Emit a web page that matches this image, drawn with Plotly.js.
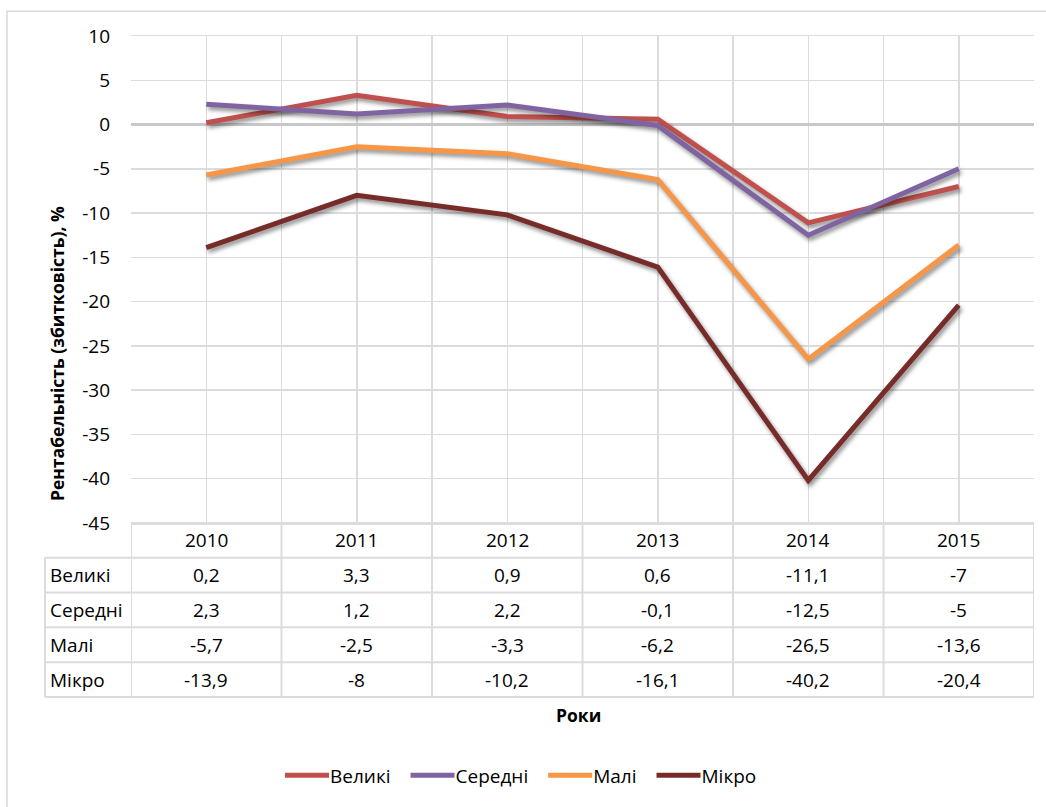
<!DOCTYPE html>
<html><head><meta charset="utf-8">
<script src="https://cdn.plot.ly/plotly-3.0.1.min.js"></script>
<style>
body{margin:0;background:#fff}
.scatterlayer .js-line{filter:drop-shadow(2px 3px 2px rgba(0,0,0,0.45));}
</style></head><body>
<div id="chart" style="width:1046px;height:807px"></div>
<script>
// ---- data ----
const years = [2010, 2011, 2012, 2013, 2014, 2015];
const seriesNames = ['Великі', 'Середні', 'Малі', 'Мікро'];
const velyki  = [0.2, 3.3, 0.9, 0.6, -11.1, -7];
const seredni = [2.3, 1.2, 2.2, -0.1, -12.5, -5];
const mali    = [-5.7, -2.5, -3.3, -6.2, -26.5, -13.6];
const mikro   = [-13.9, -8, -10.2, -16.1, -40.2, -20.4];
const yTicks  = [10, 5, 0, -5, -10, -15, -20, -25, -30, -35, -40, -45];
const yTitle = 'Рентабельність (збитковість), %';
const xTitle = 'Роки';

// ---- styling ----
const seriesValues = [velyki, seredni, mali, mikro];
const colors = ['#C0504D', '#8064A2', '#F79646', '#772C2A'];
const FONT = '"Open Sans", "Noto Sans", sans-serif';
const FS = 19;
const TFS = 17.5;
const gridC = '#dcdcdc';

// plot area in pixels
const L = 131, R = 1034, T = 36, B = 526;
const px = x => (x - L) / (R - L);
const py = y => (B - y) / (B - T);

const fmt = v => String(v).replace('.', ',');

const traces = seriesValues.map((vals, i) => ({
  type: 'scatter', mode: 'lines', name: seriesNames[i],
  x: years, y: vals,
  line: {color: colors[i], width: 5},
  hoverinfo: 'skip'
}));

const shapes = [];
const annotations = [];
const rowH = 35, headTop = 526, headBot = 561;

// outer border
shapes.push({type: 'rect', xref: 'paper', yref: 'paper',
  x0: px(7), x1: px(1060), y0: py(11), y1: py(830),
  line: {color: '#d9d9d9', width: 1.5}, fillcolor: 'rgba(0,0,0,0)', layer: 'below'});

// table horizontal lines
shapes.push({type: 'line', xref: 'paper', yref: 'paper', x0: 0, x1: 1, y0: py(headTop), y1: py(headTop), line: {color: gridC, width: 2}});
for (let r = 0; r <= seriesNames.length; r++) {
  const y = headBot + r * rowH;
  shapes.push({type: 'line', xref: 'paper', yref: 'paper', x0: px(45), x1: 1, y0: py(y), y1: py(y), line: {color: gridC, width: 2}});
}
// table vertical lines
const bounds = years.map(y => y - 0.5).concat([years[years.length - 1] + 0.5]);
bounds.forEach(b => shapes.push({type: 'line', xref: 'x', yref: 'paper', x0: b, x1: b,
  y0: py(headTop), y1: py(headBot + seriesNames.length * rowH), line: {color: gridC, width: 2}}));
shapes.push({type: 'line', xref: 'paper', yref: 'paper', x0: px(45), x1: px(45),
  y0: py(headBot), y1: py(headBot + seriesNames.length * rowH), line: {color: gridC, width: 2}});

// header years
years.forEach(yr => annotations.push({xref: 'x', yref: 'paper', x: yr, y: py((headTop + headBot) / 2),
  text: String(yr), showarrow: false, font: {family: FONT, size: FS, color: '#000'}, xanchor: 'center', yanchor: 'middle'}));
// rows
seriesNames.forEach((nm, r) => {
  const cy = py(headBot + r * rowH + rowH / 2);
  annotations.push({xref: 'paper', yref: 'paper', x: px(48), y: cy, text: nm, showarrow: false,
    font: {family: FONT, size: FS, color: '#000'}, xanchor: 'left', yanchor: 'middle'});
  seriesValues[r].forEach((v, c) => annotations.push({xref: 'x', yref: 'paper', x: years[c], y: cy,
    text: fmt(v), showarrow: false, font: {family: FONT, size: FS, color: '#000'}, xanchor: 'center', yanchor: 'middle'}));
});

// axis titles
annotations.push({xref: 'paper', yref: 'paper', x: px(57), y: py(356), text: '<b>' + yTitle + '</b>',
  textangle: -90, showarrow: false, font: {family: FONT, size: TFS, color: '#000'}, xanchor: 'center', yanchor: 'middle'});
annotations.push({xref: 'paper', yref: 'paper', x: px(578), y: py(719), text: '<b>' + xTitle + '</b>',
  showarrow: false, font: {family: FONT, size: TFS, color: '#000'}, xanchor: 'center', yanchor: 'middle'});

const layout = {
  width: 1046, height: 807,
  margin: {l: L, r: 1046 - R, t: T, b: 807 - B},
  paper_bgcolor: '#fff', plot_bgcolor: '#fff',
  font: {family: FONT, size: FS, color: '#000'},
  showlegend: true,
  legend: {orientation: 'h', x: px(516), xanchor: 'center', y: py(780), yanchor: 'middle',
    itemwidth: 50, font: {family: FONT, size: FS, color: '#000'}, itemclick: false, traceorder: 'normal'},
  xaxis: {range: [years[0] - 0.5, years[years.length - 1] + 0.5], tick0: years[0] - 0.5, dtick: 0.5,
    showticklabels: false, ticks: '', showgrid: true, gridcolor: gridC, gridwidth: 1.5,
    zeroline: false, showline: true, mirror: true, linecolor: gridC, linewidth: 1.5, fixedrange: true},
  yaxis: {range: [-45, 10], tickmode: 'array', tickvals: yTicks, ticktext: yTicks.map(String),
    ticks: '', showgrid: true, gridcolor: gridC, gridwidth: 1.5,
    zeroline: true, zerolinecolor: '#c8c8c8', zerolinewidth: 2.5, showline: false,
    tickfont: {family: FONT, size: FS, color: '#000'}, ticklabelstandoff: 20, fixedrange: true},
  shapes: shapes, annotations: annotations
};

Plotly.newPlot('chart', traces, layout, {displayModeBar: false, staticPlot: true}).then(gd => {
  // lengthen legend line samples like the original
  gd.querySelectorAll('.legend .legendlines path').forEach(p => p.setAttribute('d', 'M15,0h44'));
});
</script></body></html>
